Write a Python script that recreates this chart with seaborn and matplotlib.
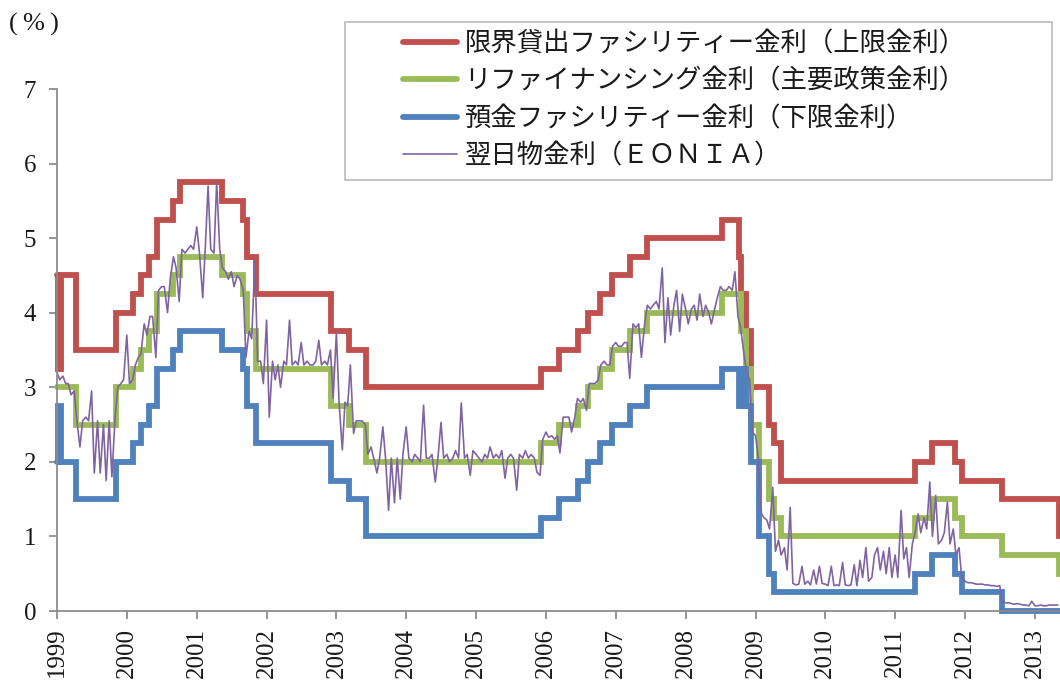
import matplotlib
matplotlib.use('Agg')
import matplotlib.pyplot as plt
import matplotlib.dates as mdates
from matplotlib.patches import Rectangle
from matplotlib.font_manager import FontProperties
import seaborn as sns
import pandas as pd

# ---------------- data ----------------
series_names = ['限界貸出ファシリティー金利（上限金利）',
                'リファイナンシング金利（主要政策金利）',
                '預金ファシリティー金利（下限金利）',
                '翌日物金利（ＥＯＮＩＡ）']

end_date = '2013-05-12'

mlf_dates = ['1999-01-01', '1999-01-04', '1999-01-22', '1999-04-09', '1999-11-05',
             '2000-02-04', '2000-03-17', '2000-04-28', '2000-06-09', '2000-09-01', '2000-10-06',
             '2001-05-11', '2001-08-31', '2001-09-18', '2001-11-09', '2002-12-06',
             '2003-03-07', '2003-06-06', '2005-12-06', '2006-03-08', '2006-06-15',
             '2006-08-09', '2006-10-11', '2006-12-13', '2007-03-14', '2007-06-13',
             '2008-07-09', '2008-10-09', '2008-10-15', '2008-11-12', '2008-12-10',
             '2009-01-21', '2009-03-11', '2009-04-08', '2009-05-13', '2011-04-13',
             '2011-07-13', '2011-11-09', '2011-12-14', '2012-07-11', '2013-05-08']
mlf_rate = [4.50, 3.25, 4.50, 3.50, 4.00,
            4.25, 4.50, 4.75, 5.25, 5.50, 5.75,
            5.50, 5.25, 4.75, 4.25, 3.75,
            3.50, 3.00, 3.25, 3.50, 3.75,
            4.00, 4.25, 4.50, 4.75, 5.00,
            5.25, 4.75, 4.25, 3.75, 3.00,
            3.00, 2.50, 2.25, 1.75, 2.00,
            2.25, 2.00, 1.75, 1.50, 1.00]

mro_dates = ['1999-01-01', '1999-04-09', '1999-11-05', '2000-02-04', '2000-03-17',
             '2000-04-28', '2000-06-09', '2000-09-01', '2000-10-06', '2001-05-11',
             '2001-08-31', '2001-09-18', '2001-11-09', '2002-12-06', '2003-03-07',
             '2003-06-06', '2005-12-06', '2006-03-08', '2006-06-15', '2006-08-09',
             '2006-10-11', '2006-12-13', '2007-03-14', '2007-06-13', '2008-07-09',
             '2008-10-15', '2008-11-12', '2008-12-10', '2009-01-21', '2009-03-11',
             '2009-04-08', '2009-05-13', '2011-04-13', '2011-07-13', '2011-11-09',
             '2011-12-14', '2012-07-11', '2013-05-08']
mro_rate = [3.00, 2.50, 3.00, 3.25, 3.50,
            3.75, 4.25, 4.50, 4.75, 4.50,
            4.25, 3.75, 3.25, 2.75, 2.50,
            2.00, 2.25, 2.50, 2.75, 3.00,
            3.25, 3.50, 3.75, 4.00, 4.25,
            3.75, 3.25, 2.50, 2.00, 1.50,
            1.25, 1.00, 1.25, 1.50, 1.25,
            1.00, 0.75, 0.50]

dep_dates = ['1999-01-01', '1999-01-04', '1999-01-22', '1999-04-09', '1999-11-05',
             '2000-02-04', '2000-03-17', '2000-04-28', '2000-06-09', '2000-09-01', '2000-10-06',
             '2001-05-11', '2001-08-31', '2001-09-18', '2001-11-09', '2002-12-06',
             '2003-03-07', '2003-06-06', '2005-12-06', '2006-03-08', '2006-06-15',
             '2006-08-09', '2006-10-11', '2006-12-13', '2007-03-14', '2007-06-13',
             '2008-07-09', '2008-10-09', '2008-10-15', '2008-10-24', '2008-10-29',
             '2008-11-04', '2008-11-07', '2008-11-12', '2008-12-10',
             '2009-01-21', '2009-03-11', '2009-04-08',
             '2011-04-13', '2011-07-13', '2011-11-09', '2011-12-14', '2012-07-11']
dep_rate = [2.00, 2.75, 2.00, 1.50, 2.00,
            2.25, 2.50, 2.75, 3.25, 3.50, 3.75,
            3.50, 3.25, 2.75, 2.25, 1.75,
            1.50, 1.00, 1.25, 1.50, 1.75,
            2.00, 2.25, 2.50, 2.75, 3.00,
            3.25, 2.75, 3.25, 2.75, 3.25,
            2.75, 3.25, 2.75, 2.00,
            1.00, 0.50, 0.25,
            0.50, 0.75, 0.50, 0.25, 0.00]

# EONIA, semi-monthly readings (1st and 15th of each month), Jan 1999 - May 2013
eonia_1999 = [3.20, 3.10, 3.15, 3.05, 3.05, 2.90, 2.95, 2.55, 2.20, 2.55, 2.60, 2.55,
              2.95, 1.85, 2.55, 1.85, 2.50, 1.75, 2.55, 1.80, 2.60, 3.00, 3.05, 3.10]
eonia_2000 = [3.70, 3.05, 3.10, 3.30, 3.40, 3.45, 3.85, 3.70, 3.95, 3.95, 3.40, 4.30,
              4.35, 4.35, 4.00, 4.45, 4.75, 4.60, 4.15, 4.85, 4.80, 4.85, 4.90, 4.85]
eonia_2001 = [5.15, 4.80, 4.20, 4.90, 5.70, 4.85, 4.80, 5.75, 4.85, 4.60, 4.55, 4.45,
              4.55, 4.35, 4.50, 4.45, 4.30, 3.40, 3.75, 3.65, 4.70, 3.35, 3.35, 3.05]
eonia_2002 = [3.90, 2.60, 3.35, 3.10, 3.30, 3.00, 3.35, 3.30, 3.90, 3.30, 3.35, 3.30,
              3.60, 3.30, 3.35, 3.30, 3.30, 3.35, 3.63, 3.30, 3.35, 3.30, 3.50, 2.85]
eonia_2003 = [3.73, 2.80, 2.16, 2.80, 2.75, 3.30, 2.38, 2.55, 2.55, 2.55, 2.50, 2.10,
              2.20, 2.05, 1.85, 2.05, 2.47, 2.05, 1.35, 2.05, 1.45, 2.05, 1.50, 2.10]
eonia_2004 = [2.47, 2.05, 2.00, 2.10, 2.05, 2.00, 2.76, 2.05, 2.05, 2.10, 1.73, 2.05,
              2.53, 2.05, 2.10, 2.00, 2.05, 2.15, 2.05, 2.79, 2.05, 2.10, 1.82, 2.15]
eonia_2005 = [2.10, 2.05, 2.00, 2.10, 2.05, 2.20, 2.05, 2.10, 2.05, 2.15, 1.78, 2.05,
              2.10, 2.05, 1.62, 2.10, 2.05, 2.15, 2.05, 2.10, 2.05, 1.86, 1.82, 2.30]
eonia_2006 = [2.40, 2.33, 2.35, 2.30, 2.35, 2.12, 2.60, 2.60, 2.60, 2.40, 2.60, 2.85,
              2.80, 2.85, 2.69, 3.05, 3.05, 3.05, 3.10, 3.30, 3.35, 3.30, 3.30, 3.55]
eonia_2007 = [3.60, 3.55, 3.55, 3.60, 3.60, 3.12, 3.85, 3.80, 3.85, 3.40, 3.85, 4.10,
              4.05, 4.10, 4.15, 4.05, 4.60, 3.60, 4.20, 3.70, 4.10, 4.30, 3.75, 4.25]
eonia_2008 = [4.05, 3.85, 4.05, 4.10, 3.90, 4.25, 3.95, 4.10, 4.00, 3.85, 4.05, 4.20,
              4.35, 4.30, 4.30, 4.35, 4.30, 4.55, 3.95, 3.80, 3.45, 3.20, 3.10, 2.40]
eonia_2009 = [2.35, 2.05, 1.30, 1.25, 1.22, 1.10, 1.66, 0.80, 0.95, 0.75, 0.85, 0.55,
              1.39, 0.37, 0.35, 0.36, 0.60, 0.36, 0.40, 0.35, 0.55, 0.36, 0.60, 0.37]
eonia_2010 = [0.36, 0.34, 0.60, 0.34, 0.35, 0.34, 0.65, 0.35, 0.34, 0.35, 0.62, 0.34,
              0.68, 0.45, 0.85, 0.40, 0.45, 0.75, 0.85, 0.55, 0.80, 0.50, 0.85, 0.45]
eonia_2011 = [0.75, 0.45, 1.35, 0.70, 0.85, 0.45, 0.90, 1.05, 1.30, 1.05, 1.25, 1.10,
              1.73, 1.00, 1.55, 0.90, 0.95, 1.05, 1.46, 0.90, 1.10, 0.75, 0.85, 0.45]
eonia_2012 = [0.40, 0.38, 0.38, 0.37, 0.36, 0.36, 0.36, 0.35, 0.35, 0.34, 0.34, 0.33,
              0.34, 0.12, 0.11, 0.11, 0.10, 0.09, 0.10, 0.09, 0.08, 0.08, 0.07, 0.13]
eonia_2013 = [0.07, 0.07, 0.08, 0.07, 0.07, 0.08, 0.08, 0.08, 0.08]

y_ticks = [0, 1, 2, 3, 4, 5, 6, 7]
colors = ['#C0504D', '#9BBB59', '#4F81BD', '#8064A2']

# ---------------- frames ----------------
def step_frame(dates, vals):
    return pd.DataFrame({'date': pd.to_datetime(list(dates) + [end_date]),
                         'rate': list(vals) + [vals[-1]]})

eonia_vals = (eonia_1999 + eonia_2000 + eonia_2001 + eonia_2002 + eonia_2003 +
              eonia_2004 + eonia_2005 + eonia_2006 + eonia_2007 + eonia_2008 +
              eonia_2009 + eonia_2010 + eonia_2011 + eonia_2012 + eonia_2013)
eonia_df = pd.DataFrame({'date': pd.date_range('1999-01-01', periods=len(eonia_vals), freq='SMS'),
                         'rate': eonia_vals})

# ---------------- plot ----------------
sns.set_theme(style='white')
plt.rcParams['font.family'] = ['Liberation Serif', 'Noto Sans CJK JP']

fig = plt.figure(figsize=(10.6, 6.82), dpi=100)
ax = fig.add_axes([57 / 1060, 1 - 611 / 682, 1 - 57 / 1060, (611 - 89) / 682])

frames = [step_frame(mlf_dates, mlf_rate), step_frame(mro_dates, mro_rate),
          step_frame(dep_dates, dep_rate)]
for df, c, name in zip(frames, colors[:3], series_names[:3]):
    sns.lineplot(data=df, x='date', y='rate', ax=ax, color=c, linewidth=4.2,
                 drawstyle='steps-post', estimator=None, errorbar=None,
                 label=name, clip_on=False, solid_joinstyle='miter')
sns.lineplot(data=eonia_df, x='date', y='rate', ax=ax, color=colors[3], linewidth=1.2,
             estimator=None, errorbar=None, label=series_names[3])

ax.set_xlim(pd.Timestamp('1999-01-01'), pd.Timestamp(end_date))
ax.set_ylim(0, 7)
ax.set_yticks(y_ticks)
ax.xaxis.set_major_locator(mdates.YearLocator(1))
ax.xaxis.set_major_formatter(mdates.DateFormatter('%Y'))
ax.set_xlabel('')
ax.set_ylabel('')

for side in ['top', 'right']:
    ax.spines[side].set_visible(False)
for side in ['left', 'bottom']:
    ax.spines[side].set_color('#8C8C8C')
    ax.spines[side].set_linewidth(1.3)

ax.tick_params(axis='both', which='major', bottom=True, left=True, direction='out',
               length=6, width=1.3, color='#8C8C8C', labelsize=18, labelcolor='#1A1A1A')
ax.tick_params(axis='y', pad=9)
ax.tick_params(axis='x', pad=6)
for lab in ax.get_xticklabels():
    lab.set_rotation(90)
    lab.set_family('Liberation Serif')
for lab in ax.get_yticklabels():
    lab.set_family('Liberation Serif')

handles = ax.get_lines()[:4]
leg = ax.legend(handles, series_names, loc='upper left',
                bbox_to_anchor=(403 / 1060, 1 - 30 / 682), bbox_transform=fig.transFigure,
                frameon=False, prop=FontProperties(family=['Noto Sans CJK JP'], size=19),
                handlelength=2.05, handletextpad=0.28, labelspacing=0.40,
                borderpad=0, borderaxespad=0)
for t in leg.get_texts():
    t.set_color('#1A1A1A')

fig.add_artist(Rectangle((345 / 1060, 1 - 180 / 682), (1052 - 345) / 1060, (180 - 22) / 682,
                         transform=fig.transFigure, fill=False, edgecolor='#BFBFBF',
                         linewidth=1.3))

fig.text(9 / 1060, 1 - 24 / 682, '(\u2009%\u2009)', fontsize=19, family='Liberation Serif',
         ha='left', va='center', color='#1A1A1A')

fig.savefig('out.png', dpi=100)
